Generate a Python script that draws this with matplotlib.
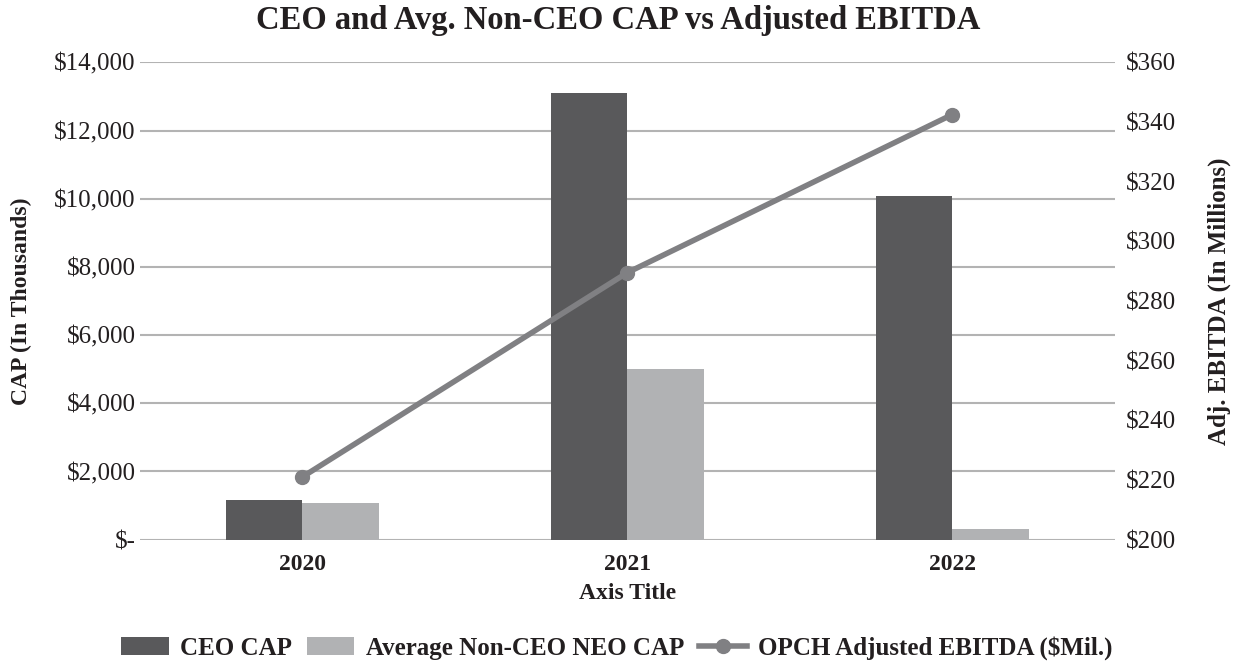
import matplotlib
matplotlib.use("Agg")
import matplotlib.pyplot as plt
import numpy as np
from matplotlib.ticker import FuncFormatter

years = ["2020", "2021", "2022"]
ceo_cap = [1150, 13100, 10070]
non_ceo_cap = [1080, 5010, 320]
ebitda = [221.0, 289.5, 342.5]

plt.rcParams['font.family'] = ['Liberation Serif', 'DejaVu Serif']

fig, ax = plt.subplots(figsize=(12.36, 6.63), dpi=100)
fig.subplots_adjust(left=0.113, right=0.902, top=0.906, bottom=0.186)

x = np.arange(len(years))
w = 0.235
ax.bar(x - w / 2, ceo_cap, w, color="#59595b", label="CEO CAP", zorder=3)
ax.bar(x + w / 2, non_ceo_cap, w, color="#b1b2b4", label="Average Non-CEO NEO CAP", zorder=3)

ax.set_xlim(-0.5, 2.5)
ax.set_ylim(0, 14000)
ax.set_yticks(np.arange(0, 14001, 2000))
ax.yaxis.set_major_formatter(FuncFormatter(lambda v, p: "$-" if v == 0 else f"${v:,.0f}"))
ax.set_xticks(x)
ax.set_xticklabels(years, fontweight="bold")
ax.grid(axis="y", color="#b3b3b3", linewidth=1.5, zorder=0)
ax.tick_params(axis="y", length=0, labelsize=18, colors="#231f20", pad=3)
ax.tick_params(axis="x", length=0, labelsize=17, colors="#231f20", pad=10)
for s in ax.spines.values():
    s.set_visible(False)
ax.set_ylabel("CAP (In Thousands)", fontsize=17, fontweight="bold", color="#231f20", labelpad=16)
ax.set_xlabel("Axis Title", fontsize=17, fontweight="bold", color="#231f20", labelpad=6)

ax2 = ax.twinx()
ax2.plot(x, ebitda, color="#808083", linewidth=4, marker="o", markersize=10,
         label="OPCH Adjusted EBITDA ($Mil.)", zorder=4)
ax2.set_ylim(200, 360)
ax2.set_yticks(np.arange(200, 361, 20))
ax2.yaxis.set_major_formatter(FuncFormatter(lambda v, p: f"${v:.0f}"))
ax2.tick_params(axis="y", length=0, labelsize=18, colors="#231f20", pad=8)
for s in ax2.spines.values():
    s.set_visible(False)
ax2.set_ylabel("Adj. EBITDA (In Millions)", fontsize=18, fontweight="bold", color="#231f20", labelpad=23)

fig.suptitle("CEO and Avg. Non-CEO CAP vs Adjusted EBITDA", fontsize=23.5, fontweight="bold",
             color="#231f20", y=0.992)

h1, l1 = ax.get_legend_handles_labels()
h2, l2 = ax2.get_legend_handles_labels()
fig.legend(h1 + h2, l1 + l2, loc="lower center", ncol=3, frameon=False,
           bbox_to_anchor=(0.499, -0.03), prop={"size": 18, "weight": "bold"},
           handlelength=1.9, handletextpad=0.45, columnspacing=0.6, labelcolor="#231f20")

fig.savefig("out.png", dpi=100)
